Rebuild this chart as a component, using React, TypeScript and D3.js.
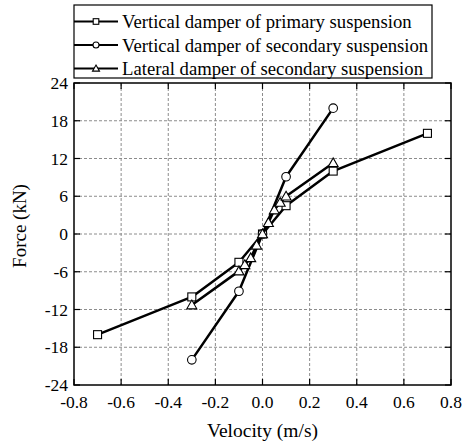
import React from "react";
import * as d3 from "d3";

const xTicks = [-0.8, -0.6, -0.4, -0.2, 0.0, 0.2, 0.4, 0.6, 0.8];
const yTicks = [-24, -18, -12, -6, 0, 6, 12, 18, 24];

const primaryX = [-0.7, -0.3, -0.1, 0, 0.1, 0.3, 0.7];
const primaryY = [-16, -10, -4.5, 0, 4.5, 10, 16];

const secVertX = [-0.3, -0.1, 0, 0.1, 0.3];
const secVertY = [-20, -9.1, 0, 9.1, 20];

const latX = [-0.3, -0.1, -0.075, -0.05, -0.025, 0, 0.025, 0.05, 0.075, 0.1, 0.3];
const latY = [-11.3, -5.9, -4.9, -3.8, -1.8, 0, 1.8, 3.8, 5.0, 6.0, 11.3];

const seriesNames = [
  "Vertical damper of primary suspension",
  "Vertical damper of secondary suspension",
  "Lateral damper of secondary suspension",
];

const FONT = "Liberation Serif, DejaVu Serif, serif";

function Marker({ type, x, y, k = 1 }: { type: string; x: number; y: number; k?: number }) {
  if (type === "square") {
    const h = 4 * k;
    return <rect x={x - h} y={y - h} width={2 * h} height={2 * h} fill="white" stroke="black" strokeWidth={1.1} />;
  }
  if (type === "circle") {
    return <circle cx={x} cy={y} r={4.3 * k} fill="white" stroke="black" strokeWidth={1.1} />;
  }
  const s = 5 * k;
  const p = `${x},${y - s} ${x + s},${y + s * 0.75} ${x - s},${y + s * 0.75}`;
  return <polygon points={p} fill="white" stroke="black" strokeWidth={1.1} />;
}

export default function App() {
  const W = 467, H = 445;
  const left = 74, right = 451, top = 83, bottom = 385;
  const x = d3.scaleLinear().domain([-0.8, 0.8]).range([left, right]);
  const y = d3.scaleLinear().domain([-24, 24]).range([bottom, top]);
  const line = d3.line<[number, number]>().x((d) => x(d[0])).y((d) => y(d[1]));

  const series = [
    { xs: primaryX, ys: primaryY, m: "square" },
    { xs: secVertX, ys: secVertY, m: "circle" },
    { xs: latX, ys: latY, m: "triangle" },
  ];

  const legendY = [21.5, 45, 68.5];
  const ts = { fontFamily: FONT };

  return (
    <svg width={W} height={H} style={{ position: "absolute", left: 0, top: 0, background: "white", fontFamily: FONT }}>
      <rect x={0} y={0} width={W} height={H} fill="white" />
      {xTicks.slice(1, -1).map((t) => (
        <line key={"gx" + t} x1={x(t)} x2={x(t)} y1={top} y2={bottom} stroke="#8c8c8c" strokeWidth={1} strokeDasharray="3,2" />
      ))}
      {yTicks.slice(1, -1).map((t) => (
        <line key={"gy" + t} x1={left} x2={right} y1={y(t)} y2={y(t)} stroke="#8c8c8c" strokeWidth={1} strokeDasharray="3,2" />
      ))}
      {xTicks.map((t) => (
        <g key={"tx" + t}>
          <line x1={x(t)} x2={x(t)} y1={bottom} y2={bottom - 6} stroke="black" strokeWidth={1.2} />
          <line x1={x(t)} x2={x(t)} y1={top} y2={top + 6} stroke="black" strokeWidth={1.2} />
          <text x={x(t)} y={408} fontSize={17.5} textAnchor="middle" fill="black" style={ts}>
            {t.toFixed(1)}
          </text>
        </g>
      ))}
      {yTicks.map((t) => (
        <g key={"ty" + t}>
          <line x1={left} x2={left + 6} y1={y(t)} y2={y(t)} stroke="black" strokeWidth={1.2} />
          <line x1={right} x2={right - 6} y1={y(t)} y2={y(t)} stroke="black" strokeWidth={1.2} />
          <text x={68} y={y(t) + 6} fontSize={17.5} textAnchor="end" fill="black" style={ts}>
            {t}
          </text>
        </g>
      ))}
      <rect x={left} y={top} width={right - left} height={bottom - top} fill="none" stroke="black" strokeWidth={1.5} />
      {series.map((s, i) => {
        const pts: [number, number][] = s.xs.map((v, j) => [v, s.ys[j]]);
        return (
          <g key={"s" + i}>
            <path d={line(pts) || ""} fill="none" stroke="black" strokeWidth={2.5} strokeLinejoin="round" />
            {pts.map((p, j) => (
              <Marker key={j} type={s.m} x={x(p[0])} y={y(p[1])} />
            ))}
          </g>
        );
      })}
      <text x={(left + right) / 2} y={437} fontSize={19.5} textAnchor="middle" fill="black" style={ts}>
        Velocity (m/s)
      </text>
      <text transform={`translate(26,226) rotate(-90)`} fontSize={19} textAnchor="middle" fill="black" style={ts}>
        Force (kN)
      </text>
      <rect x={74} y={5} width={358} height={73} fill="white" stroke="black" strokeWidth={1.2} />
      {series.map((s, i) => (
        <g key={"l" + i}>
          <line x1={74} x2={118} y1={legendY[i]} y2={legendY[i]} stroke="black" strokeWidth={2} />
          <Marker type={s.m} x={96} y={legendY[i]} k={0.7} />
          <text x={122} y={legendY[i] + 6.5} fontSize={18.7} fill="black" style={ts}>
            {seriesNames[i]}
          </text>
        </g>
      ))}
    </svg>
  );
}
